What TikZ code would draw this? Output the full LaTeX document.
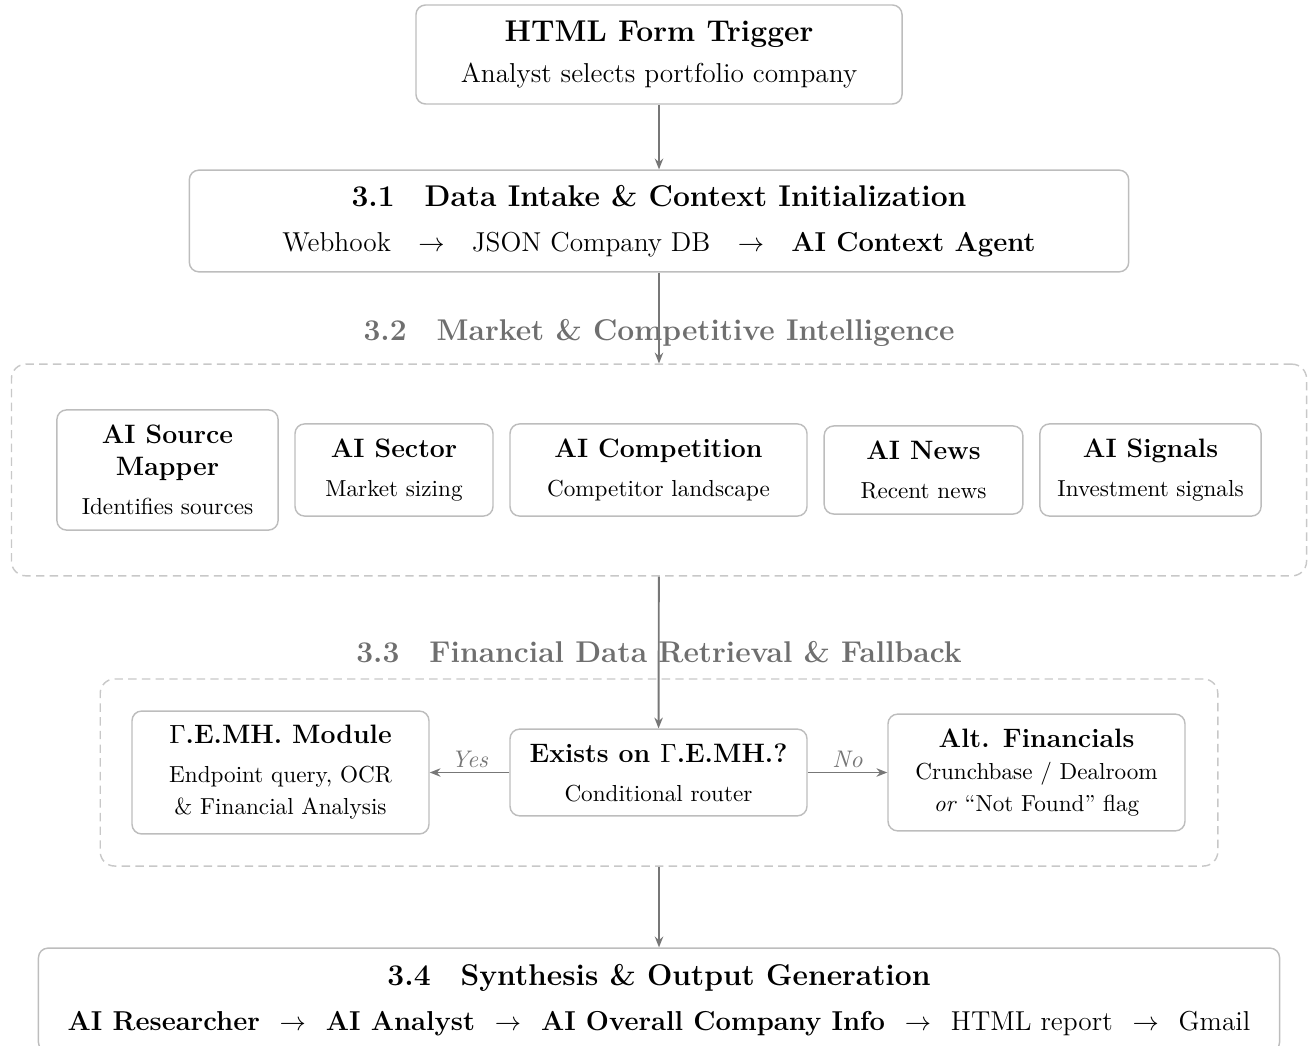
\documentclass[tikz,border=0pt]{standalone}
\usetikzlibrary{arrows.meta}

\definecolor{boxgray}{HTML}{BDBDBD}
\definecolor{dashgray}{HTML}{C8C8C8}
\definecolor{flowgray}{HTML}{777777}
\definecolor{secgray}{HTML}{6F6F6F}

\newcommand{\bighead}[1]{{\fontsize{12.5}{15}\selectfont\bfseries #1}}
\newcommand{\smallhead}[1]{{\fontsize{11.1}{13.3}\selectfont\bfseries #1}}
\newcommand{\gemh}{$\Gamma$.E.MH.}
\newcommand{\nxt}{\hspace{0.4em}$\rightarrow$\hspace{0.4em}}

\begin{document}
\begin{tikzpicture}
  [x=0.014646cm,y=-0.014646cm,
   stage/.style={draw=boxgray,line width=0.6pt,rounded corners=4pt,align=center,inner sep=0pt,
     font=\fontsize{11.4}{14}\selectfont},
   agent/.style={stage,font=\fontsize{9.65}{13.3}\selectfont},
   group/.style={draw=dashgray,line width=0.6pt,dash pattern=on 3.5pt off 2.2pt,rounded corners=6pt,inner sep=0pt},
   grouplabel/.style={text=secgray,font=\fontsize{12.5}{15}\selectfont\bfseries},
   flow/.style={draw=flowgray,line width=0.8pt,-{Stealth[length=4.5pt,width=3.5pt]}},
   branch/.style={text=flowgray,font=\fontsize{10}{12}\selectfont\itshape,above=-1.6pt,midway}]

  \useasboundingbox (0,0) rectangle (1308,1046);

  % dashed groups and their titles
  \node[group,minimum width=18.97cm,minimum height=3.10cm] (mkt) at (659,470) {};
  \node[group,minimum width=16.37cm,minimum height=2.74cm] (fin) at (659,772.5) {};
  \node[grouplabel] (mktlbl) at (659,333) {3.2\quad Market \& Competitive Intelligence};
  \node[grouplabel] (finlbl) at (659,652) {3.3\quad Financial Data Retrieval \& Fallback};

  % main stages
  \node[stage,minimum width=7.12cm,minimum height=1.45cm] (trig) at (659,54.5)
    {\bighead{HTML Form Trigger}\\[3pt] Analyst selects portfolio company};
  \node[stage,minimum width=13.76cm,minimum height=1.49cm] (intake) at (659,221)
    {\bighead{3.1\quad Data Intake \& Context Initialization}\\[5pt]
     Webhook\quad$\rightarrow$\quad JSON Company DB\quad$\rightarrow$\quad\textbf{AI Context Agent}};
  \node[stage,minimum width=18.18cm,minimum height=1.52cm] (synth) at (659,1000)
    {\bighead{3.4\quad Synthesis \& Output Generation}\\[5pt]
     \textbf{AI Researcher} \nxt{} \textbf{AI Analyst} \nxt{}
     \textbf{AI Overall Company Info} \nxt{} HTML report \nxt{} Gmail};

  % 3.2 agents
  \node[agent,minimum width=3.24cm,minimum height=1.76cm] (src) at (167.5,470)
    {\smallhead{AI Source}\\\smallhead{Mapper}\\[3pt] Identifies sources};
  \node[agent,minimum width=2.90cm,minimum height=1.35cm] (sec) at (394,470)
    {\smallhead{AI Sector}\\[3pt] Market sizing};
  \node[agent,minimum width=4.35cm,minimum height=1.35cm] (comp) at (658.5,470)
    {\smallhead{AI Competition}\\[3pt] Competitor landscape};
  \node[agent,minimum width=2.91cm,minimum height=1.29cm] (news) at (923.5,470)
    {\smallhead{AI News}\\[3pt] Recent news};
  \node[agent,minimum width=3.24cm,minimum height=1.35cm] (sig) at (1150.5,470)
    {\smallhead{AI Signals}\\[3pt] Investment signals};

  % 3.3 router and branches
  \node[agent,minimum width=4.35cm,minimum height=1.80cm] (gemh) at (280.5,772.5)
    {\smallhead{\gemh{} Module}\\[3pt] Endpoint query, OCR\\\& Financial Analysis};
  \node[agent,minimum width=4.35cm,minimum height=1.27cm] (router) at (658.5,772.5)
    {\smallhead{Exists on \gemh?}\\[3pt] Conditional router};
  \node[agent,minimum width=4.35cm,minimum height=1.71cm] (alt) at (1036.5,772.5)
    {\smallhead{Alt. Financials}\\ Crunchbase / Dealroom\\\textit{or} \textquotedblleft Not Found\textquotedblright{} flag};

  \foreach \from/\to in {trig/intake,intake/mkt,mkt/router,fin/synth}
    \draw[flow] (\from) -- (\to);

  \draw[flow] (router) -- node[branch] {Yes} (gemh);
  \draw[flow] (router) -- node[branch] {No} (alt);

\end{tikzpicture}
\end{document}
